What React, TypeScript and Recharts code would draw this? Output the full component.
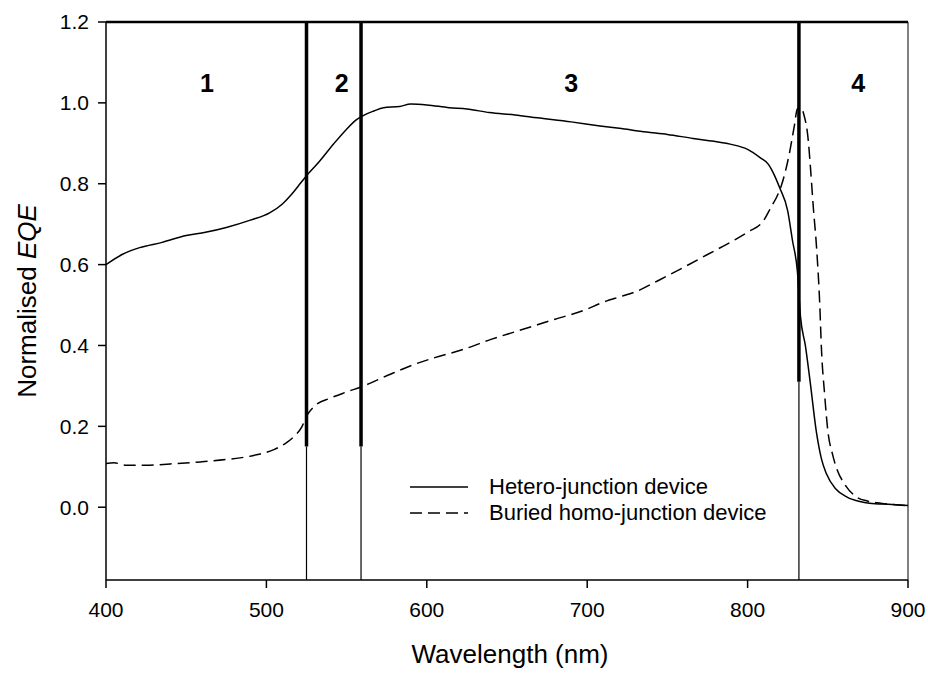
import React from 'react';
import { LineChart, Line, XAxis, YAxis, ReferenceLine, ReferenceDot, Legend } from 'recharts';

// wavelength (nm) / normalised EQE
const heteroX = [400, 410, 421, 435, 450, 462, 475, 490, 502, 510, 516, 520, 524, 533, 542, 550, 556, 560, 567, 573, 583, 590, 600, 614, 625, 639, 655, 669, 690, 708, 720, 737, 750, 766, 779, 789, 800, 808, 813, 816, 820, 825, 828, 831, 833, 836, 839, 843, 846, 849, 855, 862, 870, 876, 890, 900];
const heteroY = [0.6, 0.625, 0.642, 0.655, 0.672, 0.68, 0.692, 0.71, 0.728, 0.75, 0.775, 0.795, 0.815, 0.855, 0.899, 0.935, 0.958, 0.968, 0.98, 0.988, 0.991, 0.997, 0.995, 0.988, 0.985, 0.976, 0.97, 0.963, 0.953, 0.943, 0.937, 0.928, 0.922, 0.912, 0.905, 0.898, 0.885, 0.864, 0.848, 0.827, 0.79, 0.733, 0.659, 0.585, 0.47, 0.4, 0.31, 0.183, 0.12, 0.084, 0.045, 0.025, 0.014, 0.01, 0.007, 0.004];

const buriedX = [400, 405, 412, 425, 440, 459, 475, 492, 505, 513, 518, 522, 525, 530, 540, 550, 560, 575, 590, 605, 621, 640, 660, 680, 700, 708, 720, 729, 745, 760, 775, 791, 800, 810, 815, 818, 821, 826, 829, 831, 833, 835, 838, 839, 841, 843, 845, 846, 848, 850, 853, 856, 860, 868, 875, 883, 900];
const buriedY = [0.108, 0.11, 0.104, 0.104, 0.107, 0.112, 0.118, 0.128, 0.143, 0.161, 0.178, 0.198, 0.225, 0.25, 0.27, 0.285, 0.299, 0.325, 0.35, 0.37, 0.388, 0.415, 0.44, 0.465, 0.49, 0.504, 0.52, 0.531, 0.562, 0.593, 0.625, 0.659, 0.68, 0.709, 0.745, 0.766, 0.795, 0.874, 0.94, 0.985, 0.99, 0.972, 0.9, 0.85, 0.74, 0.642, 0.5, 0.395, 0.28, 0.19, 0.13, 0.091, 0.06, 0.025, 0.015, 0.01, 0.004];

// region boundaries: wavelength, and where the thick part ends
const boundaryX = [525, 559, 832];
const boundaryThickEnd = [0.15, 0.15, 0.31];

const regionNames = ['1', '2', '3', '4'];
const regionX = [463, 547, 690, 869];
const regionY = 1.05;

const xTicks = [400, 500, 600, 700, 800, 900];
const yTicks = [0, 0.2, 0.4, 0.6, 0.8, 1.0, 1.2];

const seriesNames = ['Hetero-junction device', 'Buried homo-junction device'];

const hetero = heteroX.map((x, i) => ({ x, y: heteroY[i] }));
const buried = buriedX.map((x, i) => ({ x, y: buriedY[i] }));

const FONT = '"Liberation Sans", Arial, sans-serif';

const LegendBox = () => (
  <div style={{ fontFamily: FONT, fontSize: 22, color: '#000', lineHeight: '26px' }}>
    {seriesNames.map((name, i) => (
      <div key={name} style={{ display: 'flex', alignItems: 'center', whiteSpace: 'nowrap' }}>
        <svg width={83} height={26}>
          <line x1={4} x2={62} y1={13} y2={13} stroke="#000" strokeWidth={1.5} strokeDasharray={i === 1 ? '12 6' : undefined} />
        </svg>
        <span>{name}</span>
      </div>
    ))}
  </div>
);

const App: React.FC = () => {
  return (
    <div style={{ position: 'absolute', left: 0, top: 0, background: '#fff' }}>
      <LineChart width={928} height={673} margin={{ top: 22, right: 20, bottom: 0, left: 0 }}>
        <XAxis
          dataKey="x"
          type="number"
          domain={[400, 900]}
          ticks={xTicks}
          allowDataOverflow
          tickSize={8}
          tickMargin={14}
          height={93}
          stroke="#000"
          strokeWidth={1.5}
          tick={{ fill: '#000', fontSize: 21, fontFamily: FONT }}
          label={{
            content: ({ viewBox }: any) => (
              <text x={viewBox.x + viewBox.width / 2 + 3} y={663} textAnchor="middle" fontSize={26} fontFamily={FONT} fill="#000">
                Wavelength (nm)
              </text>
            ),
          }}
        />
        <YAxis
          dataKey="y"
          type="number"
          domain={[-0.18, 1.2]}
          ticks={yTicks}
          allowDataOverflow
          width={106}
          tickSize={8}
          tickMargin={9}
          stroke="#000"
          strokeWidth={1.5}
          tickFormatter={(v: number) => v.toFixed(1)}
          tick={{ fill: '#000', fontSize: 21, fontFamily: FONT }}
          label={{
            content: ({ viewBox }: any) => {
              const cy = viewBox.y + viewBox.height / 2;
              return (
                <text x={36} y={cy} transform={`rotate(-90 36 ${cy})`} textAnchor="middle" fontSize={26} fontFamily={FONT} fill="#000">
                  Normalised <tspan fontStyle="italic">EQE</tspan>
                </text>
              );
            },
          }}
        />
        <ReferenceLine y={1.2} stroke="#000" strokeWidth={2.5} />
        <ReferenceLine x={900} stroke="#000" strokeWidth={1} />
        {boundaryX.map((bx, i) => (
          <ReferenceLine key={`t${bx}`} segment={[{ x: bx, y: 1.2 }, { x: bx, y: boundaryThickEnd[i] }]} stroke="#000" strokeWidth={3.5} />
        ))}
        {boundaryX.map((bx, i) => (
          <ReferenceLine key={`b${bx}`} segment={[{ x: bx, y: boundaryThickEnd[i] }, { x: bx, y: -0.18 }]} stroke="#000" strokeWidth={1.2} />
        ))}
        {regionNames.map((name, i) => (
          <ReferenceDot
            key={name}
            x={regionX[i]}
            y={regionY}
            r={0}
            fill="none"
            stroke="none"
            label={{ value: name, position: 'center', fontSize: 25, fontWeight: 'bold', fontFamily: FONT, fill: '#000' }}
          />
        ))}
        <Line data={hetero} dataKey="y" type="monotone" stroke="#000" strokeWidth={1.5} dot={false} isAnimationActive={false} />
        <Line data={buried} dataKey="y" type="monotone" stroke="#000" strokeWidth={1.5} strokeDasharray="12 6" dot={false} isAnimationActive={false} />
        <Legend
          layout="vertical"
          align="center"
          verticalAlign="middle"
          content={<LegendBox />}
          wrapperStyle={{ position: 'absolute', left: 406, top: 474, width: 'auto' }}
        />
      </LineChart>
    </div>
  );
};

export default App;
